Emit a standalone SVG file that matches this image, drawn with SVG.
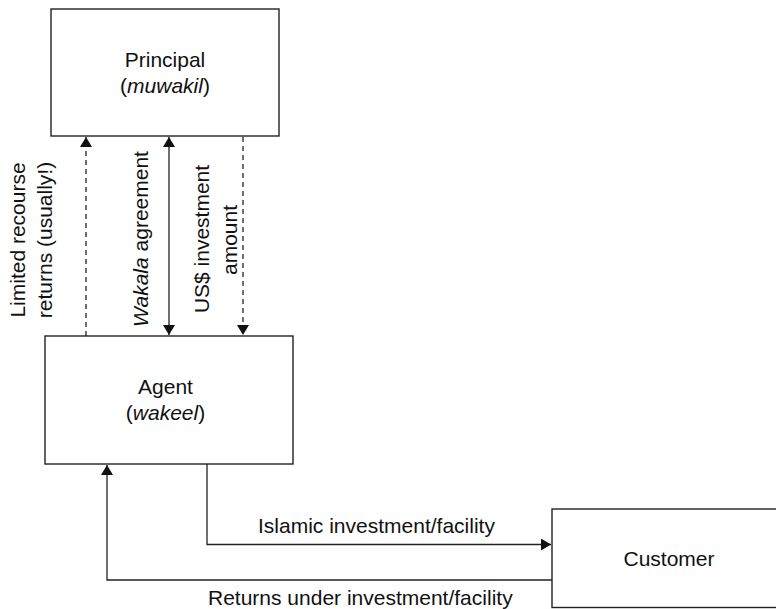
<svg xmlns="http://www.w3.org/2000/svg" width="776" height="609" viewBox="0 0 776 609">
  <style>
    .box { fill: #ffffff; stroke: #222222; stroke-width: 1.4; }
    .line { fill: none; stroke: #222222; stroke-width: 1.3; }
    .dash { stroke-dasharray: 5 4; }
    text { font-family: "Liberation Sans", Arial, sans-serif; font-size: 21px; fill: #111111; }
    .mid { text-anchor: middle; }
  </style>
  <defs>
    <marker id="arrow" viewBox="0 0 10 12" refX="10" refY="6" markerWidth="10" markerHeight="12" markerUnits="userSpaceOnUse" orient="auto-start-reverse">
      <path d="M0,0 L10,6 L0,12 Z" fill="#111111"/>
    </marker>
  </defs>

  <rect width="776" height="609" fill="#ffffff"/>

  <!-- connectors -->
  <g id="connectors">
    <line class="line dash" x1="86" y1="336" x2="86" y2="137" marker-end="url(#arrow)"/>
    <line class="line" x1="169" y1="137" x2="169" y2="335" marker-start="url(#arrow)" marker-end="url(#arrow)"/>
    <line class="line dash" x1="243" y1="137" x2="243" y2="335" marker-end="url(#arrow)"/>
    <polyline class="line" points="207,464 207,544.5 551,544.5" marker-end="url(#arrow)"/>
    <polyline class="line" points="552,580 107,580 107,465" marker-end="url(#arrow)"/>

    <text class="mid" transform="translate(25,240) rotate(-90)">Limited recourse</text>
    <text class="mid" transform="translate(51.5,240) rotate(-90)">returns (usually!)</text>
    <text class="mid" transform="translate(148,239) rotate(-90)"><tspan font-style="italic">Wakala</tspan> agreement</text>
    <text class="mid" transform="translate(208.5,239) rotate(-90)">US$ investment</text>
    <text class="mid" transform="translate(236.5,240) rotate(-90)">amount</text>

    <text x="258" y="533">Islamic investment/facility</text>
    <text x="208" y="605">Returns under investment/facility</text>
  </g>

  <g id="principal">
    <rect class="box" x="51" y="9" width="228" height="127"/>
    <text class="mid" x="165" y="67">Principal</text>
    <text class="mid" x="165" y="93">(<tspan font-style="italic">muwakil</tspan>)</text>
  </g>

  <g id="agent">
    <rect class="box" x="45" y="336" width="248" height="128"/>
    <text class="mid" x="165.5" y="394">Agent</text>
    <text class="mid" x="165.5" y="420">(<tspan font-style="italic">wakeel</tspan>)</text>
  </g>

  <!-- the customer box runs off the right edge of the drawing -->
  <g id="customer">
    <rect class="box" x="552" y="509" width="260" height="98.5"/>
    <text class="mid" x="669" y="566">Customer</text>
  </g>
</svg>
